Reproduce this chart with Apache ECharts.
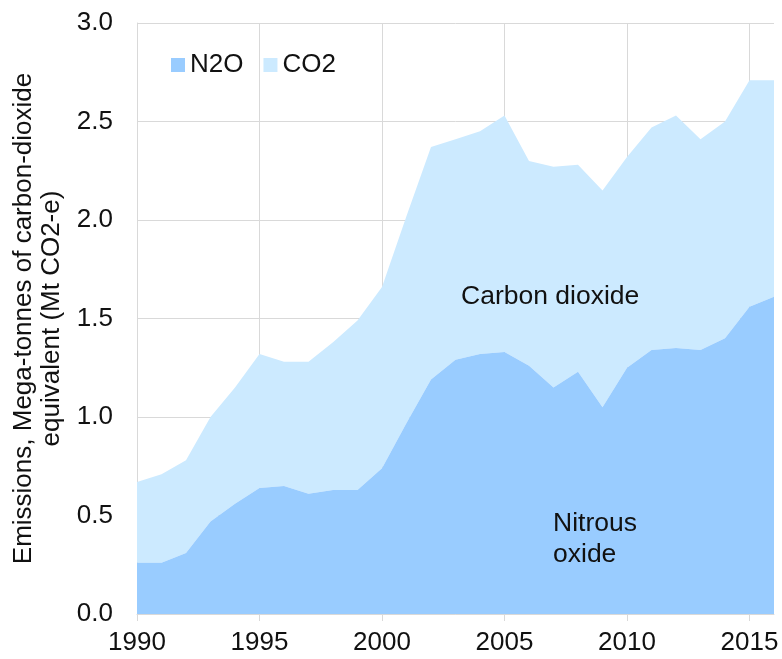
<!DOCTYPE html>
<html>
<head>
<meta charset="utf-8">
<script src="https://cdn.jsdelivr.net/npm/echarts@6/dist/echarts.min.js"></script>
<style>
  html, body { margin: 0; padding: 0; background: #fff; }
  #main { width: 782px; height: 659px; }
</style>
</head>
<body>
<div id="main"></div>
<script>
// years on the x axis
const years = [];
for (let y = 1990; y <= 2016; y++) years.push(String(y));

// N2O emissions (Mt CO2-e), bottom layer
const n2o = [0.26, 0.26, 0.31, 0.47, 0.56, 0.64, 0.65, 0.61, 0.63, 0.63,
             0.74, 0.97, 1.19, 1.29, 1.32, 1.33, 1.26, 1.15, 1.23, 1.05,
             1.25, 1.34, 1.35, 1.34, 1.40, 1.56, 1.61];
// CO2 emissions (Mt CO2-e), stacked on top
const co2 = [0.41, 0.45, 0.47, 0.53, 0.59, 0.68, 0.63, 0.67, 0.75, 0.86,
             0.92, 1.05, 1.18, 1.12, 1.13, 1.20, 1.04, 1.12, 1.05, 1.10,
             1.07, 1.13, 1.18, 1.07, 1.10, 1.15, 1.10];

const seriesNames = ['N2O', 'CO2'];
const yTitle = 'Emissions, Mega-tonnes of carbon-dioxide\nequivalent (Mt CO2-e)';

const font = '"Liberation Sans", Arial, sans-serif';
const textColor = '#111';
const gridColor = '#d9d9d9';

var chart = echarts.init(document.getElementById('main'));

let option = {
    animation: false,
    textStyle: { fontFamily: font },
    grid: { left: 137, right: 8, top: 23, bottom: 45 },
    legend: {
        left: 166,
        top: 46,
        itemWidth: 14,
        itemHeight: 14,
        itemGap: 20,
        icon: 'rect',
        textStyle: { fontSize: 26, color: textColor, fontFamily: font, lineHeight: 28 },
        data: seriesNames
    },
    xAxis: {
        type: 'category',
        data: years,
        boundaryGap: false,
        axisLine: { lineStyle: { color: gridColor, width: 1 } },
        axisTick: { interval: 4, length: 7, lineStyle: { color: gridColor } },
        axisLabel: { interval: 4, margin: 16, fontSize: 26, color: textColor, fontFamily: font },
        splitLine: { show: true, interval: 4, lineStyle: { color: gridColor, width: 1 } }
    },
    yAxis: {
        type: 'value',
        min: 0,
        max: 3,
        interval: 0.5,
        name: yTitle,
        nameLocation: 'middle',
        nameGap: 70,
        nameTextStyle: { fontSize: 26, color: textColor, fontFamily: font, lineHeight: 28 },
        axisLine: { show: true, lineStyle: { color: gridColor } },
        axisTick: { show: false },
        axisLabel: {
            margin: 24, fontSize: 26, color: textColor, fontFamily: font,
            formatter: v => v.toFixed(1)
        },
        splitLine: { lineStyle: { color: gridColor, width: 1 } }
    },
    series: [
        {
            name: 'N2O',
            type: 'line',
            stack: 'total',
            data: n2o,
            symbol: 'none',
            lineStyle: { width: 0 },
            itemStyle: { color: '#99ccff' },
            areaStyle: { color: '#99ccff', opacity: 1 },
            z: 3
        },
        {
            name: 'CO2',
            type: 'line',
            stack: 'total',
            data: co2,
            symbol: 'none',
            lineStyle: { width: 0 },
            itemStyle: { color: '#cceaff' },
            areaStyle: { color: '#cceaff', opacity: 1 },
            z: 2
        }
    ],
    graphic: [
        {
            type: 'text', left: 461, top: 283, z: 10,
            style: { text: 'Carbon dioxide', font: '26.5px ' + font, fill: textColor }
        },
        {
            type: 'text', left: 553, top: 508, z: 10,
            style: { text: 'Nitrous\noxide', font: '26.5px ' + font, fill: textColor, lineHeight: 31 }
        }
    ]
};

chart.setOption(option);
</script>
</body>
</html>
